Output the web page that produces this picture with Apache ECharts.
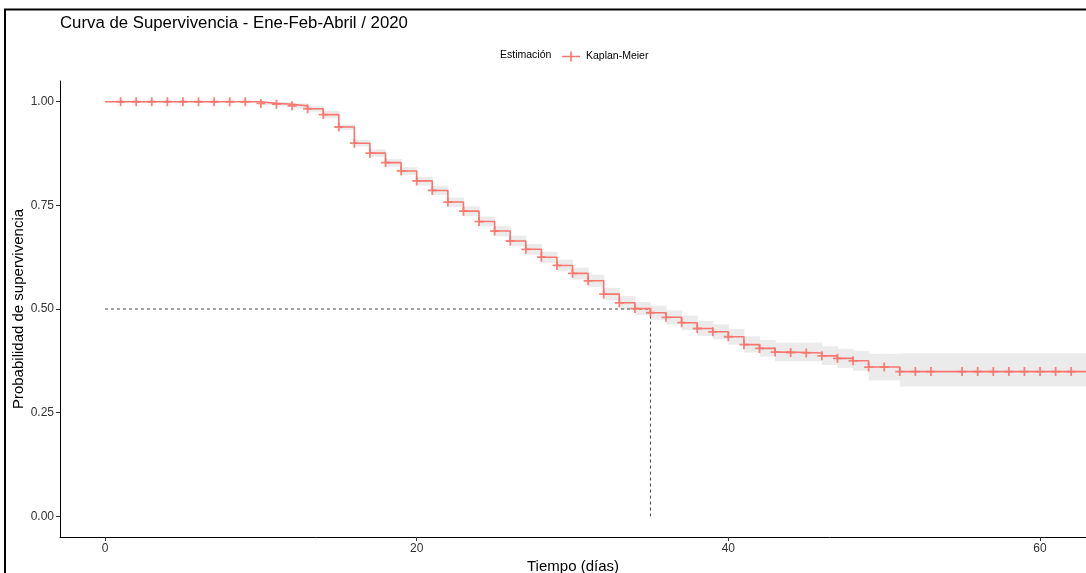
<!DOCTYPE html>
<html>
<head>
<meta charset="utf-8">
<script src="https://cdn.jsdelivr.net/npm/echarts@6/dist/echarts.min.js"></script>
<style>
html,body{margin:0;padding:0;background:#fff;}
#chart{width:1086px;height:573px;}
</style>
</head>
<body>
<div id="chart"></div>
<script>
// ---- Data ----
const days = [0,1,2,3,4,5,6,7,8,9,10,11,12,13,14,15,16,17,18,19,20,21,22,23,24,25,26,27,28,29,30,31,32,33,34,35,36,37,38,39,40,41,42,43,44,45,46,47,48,49,50,51,52,53,54,55,56,57,58,59,60,61,62,63];
const survival = [1.000,1.000,1.000,1.000,1.000,1.000,1.000,1.000,1.000,1.000,0.996,0.994,0.990,0.983,0.969,0.939,0.900,0.876,0.853,0.833,0.809,0.786,0.758,0.736,0.711,0.688,0.664,0.644,0.625,0.605,0.586,0.568,0.536,0.515,0.501,0.491,0.480,0.467,0.453,0.445,0.433,0.414,0.405,0.396,0.395,0.394,0.387,0.381,0.375,0.360,0.360,0.349,0.349,0.349,0.349,0.349,0.349,0.349,0.349,0.349,0.349,0.349,0.349,0.349];
const upperCI = [1.000,1.000,1.000,1.000,1.000,1.000,1.000,1.000,1.000,1.000,1.000,0.999,0.996,0.990,0.978,0.945,0.908,0.885,0.862,0.842,0.819,0.797,0.769,0.748,0.723,0.700,0.677,0.657,0.638,0.619,0.600,0.583,0.551,0.531,0.517,0.508,0.497,0.484,0.471,0.463,0.452,0.434,0.425,0.419,0.419,0.419,0.410,0.404,0.399,0.392,0.392,0.393,0.393,0.393,0.393,0.393,0.393,0.393,0.393,0.393,0.393,0.393,0.393,0.393];
const lowerCI = [1.000,1.000,1.000,1.000,1.000,1.000,1.000,1.000,1.000,1.000,0.992,0.989,0.984,0.976,0.960,0.932,0.892,0.867,0.843,0.823,0.798,0.775,0.746,0.724,0.699,0.675,0.651,0.631,0.611,0.591,0.571,0.553,0.521,0.499,0.485,0.474,0.463,0.449,0.435,0.427,0.414,0.395,0.385,0.374,0.374,0.374,0.365,0.358,0.351,0.328,0.328,0.313,0.313,0.313,0.313,0.313,0.313,0.313,0.313,0.313,0.313,0.313,0.313,0.313];
const censorDays = [1,2,3,4,5,6,7,8,9,10,11,12,13,14,15,16,17,18,19,20,21,22,23,24,25,26,27,28,29,30,31,32,33,34,35,36,37,38,39,40,41,42,43,44,45,46,47,48,49,50,51,52,53,55,56,57,58,59,60,61,62];
const medianTime = 35;
const medianProb = 0.5;
const xTicks = [0, 20, 40, 60];
const yTicks = [0, 0.25, 0.5, 0.75, 1];

const titleText = 'Curva de Supervivencia - Ene-Feb-Abril / 2020';
const legendTitle = 'Estimación';
const seriesName = 'Kaplan-Meier';
const xName = 'Tiempo (días)';
const yName = 'Probabilidad de supervivencia';

// ---- Build series data ----
const kmData = days.map((d, i) => [d, survival[i]]);
const bandData = [];
for (let i = 0; i < days.length - 1; i++) {
  bandData.push([days[i], days[i + 1], lowerCI[i], upperCI[i]]);
}
const censorData = censorDays.map(d => [d, survival[days.indexOf(d)]]);
const medianData = [[0, medianProb], [medianTime, medianProb], [medianTime, 0]];

const RED = '#F8766D';
const FONT = '"Liberation Sans", Arial, sans-serif';
const plusPath = 'path://M4,0h2v10h-2z M0,4h10v2h-10z';

const chart = echarts.init(document.getElementById('chart'), null, {renderer: 'canvas'});
chart.setOption({
  animation: false,
  backgroundColor: '#fff',
  textStyle: {fontFamily: FONT},
  title: {
    text: titleText,
    left: 55, top: 10,
    textStyle: {fontFamily: FONT, fontSize: 16.8, fontWeight: 'normal', color: '#000'}
  },
  graphic: [
    {type: 'rect', shape: {x: 5, y: 9.5, width: 1200, height: 700}, style: {fill: 'none', stroke: '#000', lineWidth: 2}, z: 100},
    {type: 'text', left: 500, top: 50, style: {text: legendTitle, font: '10.5px "Liberation Sans", Arial, sans-serif', fill: '#000'}}
  ],
  legend: {
    data: [seriesName],
    left: 557, top: 46,
    itemWidth: 20, itemHeight: 10, itemGap: 4,
    icon: 'path://M0,4.2h18v1.6h-18z M8.2,0h1.6v10h-1.6z',
    textStyle: {fontFamily: FONT, fontSize: 10.5, color: '#000'},
    selectedMode: false
  },
  grid: {left: 60, right: 0, top: 81, bottom: 36, containLabel: false, outerBoundsMode: 'none'},
  xAxis: {
    type: 'value', min: -2.89, max: 62.95,
    name: xName, nameLocation: 'middle', nameGap: 22, nameMoveOverlap: false,
    nameTextStyle: {fontFamily: FONT, fontSize: 15, color: '#000'},
    splitLine: {show: false},
    axisLine: {show: true, onZero: false, lineStyle: {color: '#000', width: 1}},
    axisTick: {show: true, length: 4, lineStyle: {color: '#333'}, customValues: xTicks},
    axisLabel: {customValues: xTicks, margin: 6, fontFamily: FONT, fontSize: 12, color: '#333'}
  },
  yAxis: {
    type: 'value', min: -0.05, max: 1.05,
    name: yName, nameLocation: 'middle', nameGap: 34, nameMoveOverlap: false,
    nameTextStyle: {fontFamily: FONT, fontSize: 15, color: '#000'},
    splitLine: {show: false},
    axisLine: {show: true, onZero: false, lineStyle: {color: '#000', width: 1}},
    axisTick: {show: true, length: 4, lineStyle: {color: '#333'}, customValues: yTicks},
    axisLabel: {customValues: yTicks, margin: 6, fontFamily: FONT, fontSize: 12, color: '#333',
      formatter: v => v.toFixed(2)}
  },
  series: [
    {
      name: 'ciBand', type: 'custom', data: bandData, silent: true, z: 1,
      encode: {x: [0, 1], y: [2, 3]},
      renderItem: function (params, api) {
        const p0 = api.coord([api.value(0), api.value(3)]);
        const p1 = api.coord([api.value(1), api.value(2)]);
        return {
          type: 'rect',
          shape: {x: p0[0], y: p0[1], width: p1[0] - p0[0] + 0.6, height: Math.max(p1[1] - p0[1], 0)},
          style: {fill: '#EBEBEB'}
        };
      }
    },
    {
      name: 'median', type: 'line', data: medianData, symbol: 'none',
      lineStyle: {color: '#444', width: 1, type: [3, 3]}, silent: true, z: 2
    },
    {
      name: seriesName, type: 'line', step: 'end', data: kmData, symbol: 'none',
      lineStyle: {color: RED, width: 1.6}, itemStyle: {color: RED}, z: 3
    },
    {
      name: seriesName, type: 'scatter', data: censorData, symbol: plusPath, symbolSize: 9,
      itemStyle: {color: RED, opacity: 0.9}, z: 4
    }
  ]
});
</script>
</body>
</html>
